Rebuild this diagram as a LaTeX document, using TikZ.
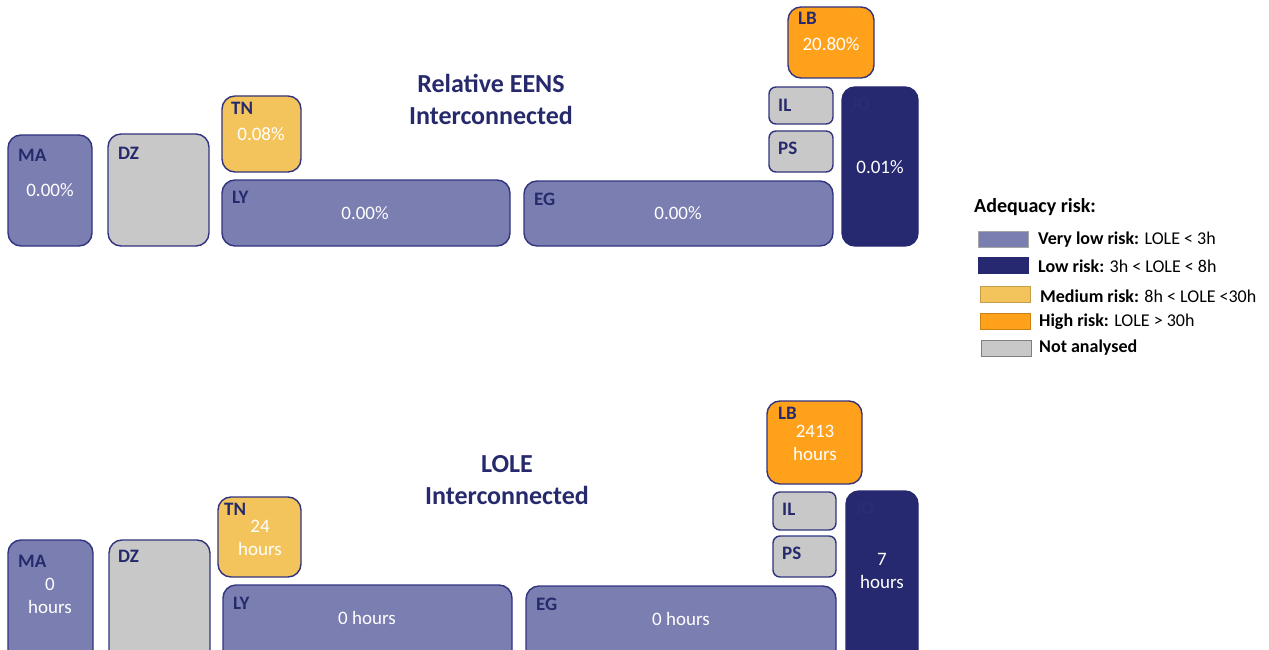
\documentclass[tikz,border=0pt]{standalone}
\usepackage{fontspec}
\setmainfont{Carlito}
\definecolor{vlow}{HTML}{7B7EB1}
\definecolor{low}{HTML}{262870}
\definecolor{med}{HTML}{F4C45C}
\definecolor{high}{HTML}{FFA11A}
\definecolor{nona}{HTML}{C8C8C8}
\definecolor{edge}{HTML}{30347E}
\definecolor{lbl}{HTML}{262A6C}
\definecolor{hid}{HTML}{2A2D74}
\begin{document}
\begin{tikzpicture}[x=1pt,y=-1pt,
  box/.style={draw=edge,line width=1.4pt,rounded corners=13pt},
  sbox/.style={draw=edge,line width=1.4pt,rounded corners=7pt},
  lab/.style={anchor=west,inner sep=0pt,text=lbl,font=\fontsize{19}{19}\selectfont\bfseries},
  val/.style={inner sep=0pt,text=white,font=\fontsize{19}{23}\selectfont,align=center},
  ttl/.style={inner sep=0pt,text=lbl,font=\fontsize{26}{32}\selectfont\bfseries,align=center},
  sw/.style={line width=1pt,minimum width=50pt,minimum height=16pt,inner sep=0pt,outer sep=0pt},
  leg/.style={anchor=west,inner sep=0pt,font=\fontsize{18}{18}\selectfont},
]
\useasboundingbox (0,0) rectangle (1269,650);
% ---------- top: Relative EENS ----------
\node[ttl] (t1) at (491,99) {Relative EENS\\Interconnected};
\draw[box,fill=vlow] (8,135) rectangle (92,246);
\node[lab] (MA1l) at (18,155) {MA};
\node[val] (MA1v) at (50,190) {0.00\%};
\draw[box,fill=nona] (108,134) rectangle (209,246);
\node[lab] (DZ1l) at (118,153) {DZ};
\draw[box,fill=med] (222,96) rectangle (301,172);
\node[lab] (TN1l) at (231,108) {TN};
\node[val] (TN1v) at (261,134) {0.08\%};
\draw[box,fill=vlow] (222,180) rectangle (510,246);
\node[lab] (LY1l) at (232,197) {LY};
\node[val] (LY1v) at (365,213) {0.00\%};
\draw[box,fill=vlow] (524,181) rectangle (833,246);
\node[lab] (EG1l) at (534,199) {EG};
\node[val] (EG1v) at (678,213) {0.00\%};
\draw[box,fill=high] (788,7) rectangle (874,78);
\node[lab] (LB1l) at (798,18) {LB};
\node[val] (LB1v) at (831,44) {20.80\%};
\draw[sbox,fill=nona] (769,87) rectangle (833,124);
\node[lab] (IL1l) at (778,105) {IL};
\draw[sbox,fill=nona] (769,131) rectangle (833,172);
\node[lab] (PS1l) at (778,148) {PS};
\draw[box,fill=low,draw=low] (842,87) rectangle (918,246);
\node[lab,text=hid] (JO1l) at (851,104) {JO};
\node[val] (JO1v) at (880,167) {0.01\%};
% ---------- bottom: LOLE ----------
\node[ttl] (t2) at (507,480) {LOLE\\Interconnected};
\draw[box,fill=vlow] (8,540) rectangle (93,664);
\node[lab] (MA2l) at (18,561) {MA};
\node[val] (MA2v) at (50,596) {0\\hours};
\draw[box,fill=nona] (109,540) rectangle (210,664);
\node[lab] (DZ2l) at (118,556) {DZ};
\draw[box,fill=med] (218,497) rectangle (301,577);
\node[lab] (TN2l) at (224,509) {TN};
\node[val] (TN2v) at (260,538) {24\\hours};
\draw[box,fill=vlow] (223,585) rectangle (512,664);
\node[lab] (LY2l) at (233,603) {LY};
\node[val] (LY2v) at (367,618) {0 hours};
\draw[box,fill=vlow] (526,586) rectangle (836,664);
\node[lab] (EG2l) at (536,604) {EG};
\node[val] (EG2v) at (681,619) {0 hours};
\draw[box,fill=high] (767,401) rectangle (862,484);
\node[lab] (LB2l) at (778,413) {LB};
\node[val] (LB2v) at (815,443) {2413\\hours};
\draw[sbox,fill=nona] (773,492) rectangle (836,530);
\node[lab] (IL2l) at (782,509) {IL};
\draw[sbox,fill=nona] (773,536) rectangle (836,577);
\node[lab] (PS2l) at (782,553) {PS};
\draw[box,fill=low,draw=low] (846,491) rectangle (918,664);
\node[lab,text=hid] (JO2l) at (855,508) {JO};
\node[val] (JO2v) at (882,571) {7\\hours};
% ---------- legend ----------
\node[anchor=west,inner sep=0pt,font=\fontsize{20}{20}\selectfont\bfseries] (legt) at (974,207) {Adequacy risk:};
\node[sw,fill=vlow,draw=gray!70] (s1) at (1003,239) {};
\node[leg] (l1) at (1038,240) {\textbf{Very low risk:} LOLE < 3h};
\node[sw,fill=low,draw=low] (s2) at (1003,265) {};
\node[leg] (l2) at (1038,266) {\textbf{Low risk:} 3h < LOLE < 8h};
\node[sw,fill=med,draw=med!80!black] (s3) at (1005,294) {};
\node[leg] (l3) at (1040,296) {\textbf{Medium risk:} 8h < LOLE <30h};
\node[sw,fill=high,draw=high!80!black] (s4) at (1005,321) {};
\node[leg] (l4) at (1039,322) {\textbf{High risk:} LOLE > 30h};
\node[sw,fill=nona,draw=gray] (s5) at (1006,348) {};
\node[leg] (l5) at (1039,348) {\textbf{Not analysed}};
\end{tikzpicture}
\end{document}
